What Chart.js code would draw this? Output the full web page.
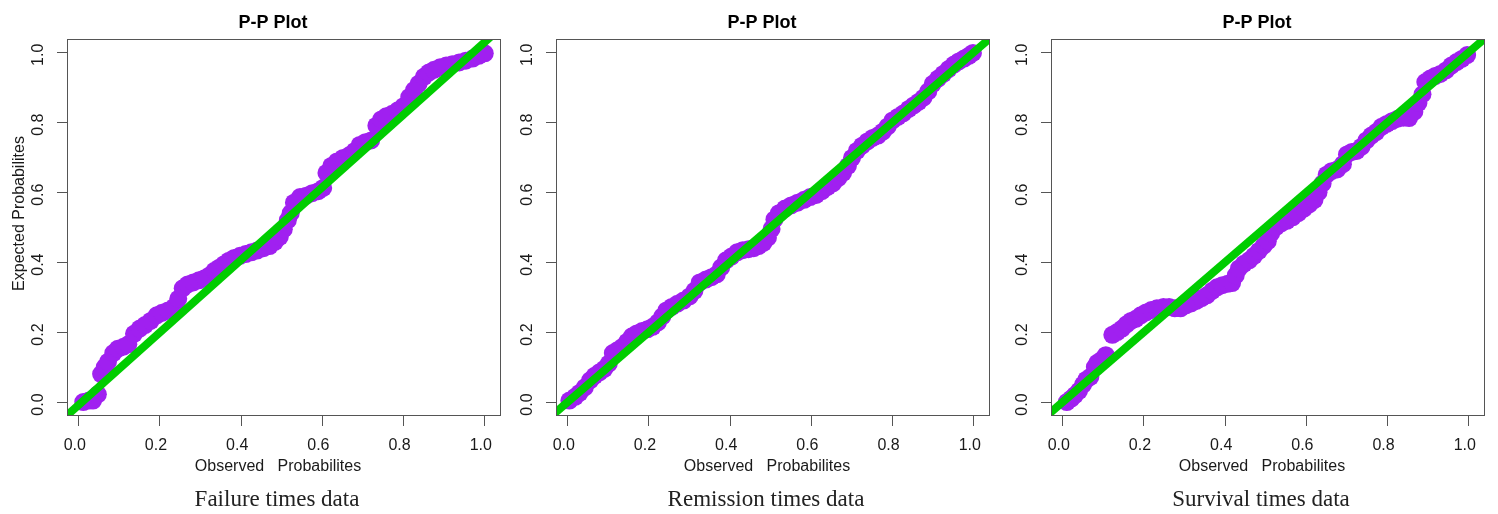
<!DOCTYPE html>
<html>
<head>
<meta charset="utf-8">
<title>P-P Plots</title>
<script src="https://cdn.jsdelivr.net/npm/chart.js@4.4.1/dist/chart.umd.min.js"></script>
<style>
  body { margin: 0; background: #fff; }
  #wrap { position: relative; width: 1498px; height: 514px; overflow: hidden; }
  #wrap canvas { position: absolute; top: 0; }
</style>
</head>
<body>
<div id="wrap">
  <canvas id="pp1" width="498" height="514" style="left:7px"></canvas>
  <canvas id="pp2" width="498" height="514" style="left:496px"></canvas>
  <canvas id="pp3" width="498" height="514" style="left:991px"></canvas>
</div>
<script>
// tick labels shared by both axes of every panel
var tickValues = [0, 0.2, 0.4, 0.6, 0.8, 1.0];
// reference lines: x ends and y ends per panel
var lineX = [-0.1, 1.1];
var failureLine = [-0.112, 1.133];
var remissionLine = [-0.1, 1.1];
var survivalLine = [-0.1, 1.1];

// Failure times data
var failureObs = [0.011, 0.025, 0.035, 0.047, 0.055, 0.064, 0.072, 0.085, 0.096, 0.110,
  0.122, 0.136, 0.150, 0.163, 0.177, 0.192, 0.205, 0.220, 0.235, 0.245,
  0.256, 0.268, 0.282, 0.296, 0.310, 0.322, 0.334, 0.346, 0.358, 0.370,
  0.383, 0.397, 0.411, 0.425, 0.439, 0.455, 0.470, 0.483, 0.495, 0.505,
  0.515, 0.522, 0.530, 0.545, 0.560, 0.575, 0.590, 0.602, 0.610, 0.622,
  0.636, 0.651, 0.667, 0.680, 0.692, 0.706, 0.720, 0.733, 0.745, 0.757,
  0.772, 0.786, 0.800, 0.814, 0.826, 0.837, 0.850, 0.862, 0.875, 0.890,
  0.905, 0.920, 0.937, 0.953, 0.970, 0.985, 1.000];
var failureExp = [0.000, 0.004, 0.004, 0.022, 0.080, 0.100, 0.115, 0.140, 0.152, 0.158,
  0.165, 0.195, 0.210, 0.220, 0.232, 0.248, 0.255, 0.262, 0.272, 0.295,
  0.325, 0.336, 0.342, 0.348, 0.354, 0.362, 0.375, 0.384, 0.394, 0.404,
  0.412, 0.418, 0.423, 0.428, 0.433, 0.440, 0.446, 0.458, 0.472, 0.494,
  0.520, 0.540, 0.570, 0.586, 0.590, 0.597, 0.603, 0.612, 0.655, 0.675,
  0.688, 0.698, 0.706, 0.718, 0.735, 0.743, 0.748, 0.790, 0.808, 0.817,
  0.824, 0.834, 0.846, 0.872, 0.892, 0.910, 0.930, 0.942, 0.950, 0.957,
  0.962, 0.966, 0.971, 0.976, 0.982, 0.990, 0.997];

// Remission times data
var remissionObs = [0.004, 0.018, 0.029, 0.042, 0.055, 0.066, 0.078, 0.090, 0.101, 0.111,
  0.122, 0.134, 0.146, 0.158, 0.170, 0.183, 0.196, 0.209, 0.222, 0.233,
  0.243, 0.256, 0.270, 0.285, 0.300, 0.312, 0.325, 0.340, 0.354, 0.367,
  0.378, 0.390, 0.403, 0.417, 0.431, 0.445, 0.458, 0.470, 0.482, 0.493,
  0.502, 0.509, 0.520, 0.535, 0.550, 0.566, 0.582, 0.597, 0.612, 0.626,
  0.640, 0.653, 0.666, 0.678, 0.690, 0.700, 0.712, 0.725, 0.738, 0.751,
  0.764, 0.776, 0.788, 0.800, 0.813, 0.826, 0.840, 0.852, 0.864, 0.876,
  0.888, 0.899, 0.912, 0.925, 0.938, 0.951, 0.963, 0.976, 0.988, 0.998];
var remissionExp = [0.004, 0.015, 0.026, 0.042, 0.062, 0.075, 0.085, 0.095, 0.110, 0.140,
  0.148, 0.157, 0.172, 0.188, 0.196, 0.203, 0.208, 0.215, 0.228, 0.245,
  0.262, 0.272, 0.281, 0.290, 0.302, 0.318, 0.342, 0.350, 0.357, 0.365,
  0.385, 0.405, 0.416, 0.428, 0.434, 0.437, 0.440, 0.446, 0.455, 0.470,
  0.495, 0.522, 0.540, 0.553, 0.562, 0.570, 0.578, 0.586, 0.592, 0.603,
  0.615, 0.625, 0.640, 0.655, 0.675, 0.698, 0.718, 0.733, 0.745, 0.755,
  0.762, 0.773, 0.788, 0.805, 0.815, 0.825, 0.838, 0.848, 0.858, 0.870,
  0.888, 0.910, 0.925, 0.938, 0.952, 0.965, 0.974, 0.982, 0.990, 0.998];

// Survival times data
var survivalObs = [0.010, 0.021, 0.030, 0.040, 0.050, 0.058, 0.068, 0.079, 0.085, 0.095,
  0.106, 0.122, 0.134, 0.146, 0.157, 0.168, 0.180, 0.192, 0.205, 0.218,
  0.232, 0.248, 0.262, 0.276, 0.290, 0.303, 0.316, 0.329, 0.342, 0.355,
  0.368, 0.380, 0.393, 0.406, 0.417, 0.426, 0.434, 0.446, 0.459, 0.471,
  0.483, 0.495, 0.505, 0.513, 0.525, 0.538, 0.552, 0.566, 0.580, 0.594,
  0.607, 0.620, 0.630, 0.640, 0.650, 0.662, 0.676, 0.690, 0.700, 0.712,
  0.724, 0.736, 0.748, 0.760, 0.772, 0.785, 0.798, 0.811, 0.825, 0.839,
  0.853, 0.866, 0.876, 0.886, 0.893, 0.905, 0.917, 0.930, 0.944, 0.957,
  0.970, 0.983, 0.996];
var survivalExp = [0.000, 0.010, 0.020, 0.032, 0.050, 0.064, 0.072, 0.100, 0.112, 0.120,
  0.134, 0.192, 0.200, 0.210, 0.222, 0.232, 0.238, 0.248, 0.256, 0.263,
  0.268, 0.272, 0.272, 0.268, 0.268, 0.276, 0.282, 0.289, 0.297, 0.305,
  0.318, 0.328, 0.334, 0.338, 0.340, 0.362, 0.382, 0.395, 0.405, 0.418,
  0.432, 0.447, 0.460, 0.482, 0.500, 0.511, 0.518, 0.528, 0.540, 0.553,
  0.565, 0.578, 0.600, 0.625, 0.650, 0.660, 0.665, 0.680, 0.708, 0.715,
  0.718, 0.730, 0.748, 0.762, 0.772, 0.787, 0.795, 0.803, 0.810, 0.813,
  0.812, 0.830, 0.855, 0.880, 0.915, 0.925, 0.932, 0.938, 0.948, 0.962,
  0.972, 0.981, 0.992];

Chart.defaults.font.family = "Arial, 'Liberation Sans', sans-serif";
Chart.defaults.font.size = 16;
Chart.defaults.color = "#1a1a1a";

// R style box around the plot region
var boxPlugin = {
  id: "rBox",
  afterDatasetsDraw: function(chart) {
    var a = chart.chartArea, ctx = chart.ctx;
    ctx.save();
    ctx.strokeStyle = "#555";
    ctx.lineWidth = 1;
    ctx.strokeRect(Math.round(a.left) + 0.5, Math.round(a.top) + 0.5,
      Math.round(a.right - a.left) - 1, Math.round(a.bottom - a.top) - 1);
    ctx.restore();
  }
};

// title, axis titles and caption
var textPlugin = {
  id: "rText",
  afterDraw: function(chart, args, opts) {
    var a = chart.chartArea, ctx = chart.ctx;
    var cx = (a.left + a.right) / 2;
    ctx.save();
    ctx.textAlign = "center";
    ctx.textBaseline = "middle";
    ctx.fillStyle = "#000";
    ctx.font = "bold 18px Arial, 'Liberation Sans', sans-serif";
    ctx.fillText(opts.title, cx - 11, a.top - 16);
    ctx.fillStyle = "#1a1a1a";
    ctx.font = "16px Arial, 'Liberation Sans', sans-serif";
    ctx.fillText(opts.xlab, cx - 6, a.bottom + 51);
    ctx.fillStyle = "#222";
    ctx.font = "23px 'Liberation Serif', 'Times New Roman', serif";
    ctx.fillText(opts.caption, cx - 7, a.bottom + 84);
    if (opts.ylab) {
      ctx.fillStyle = "#1a1a1a";
      ctx.font = "16px Arial, 'Liberation Sans', sans-serif";
      ctx.translate(a.left - 47, (a.top + a.bottom) / 2 - 14);
      ctx.rotate(-Math.PI / 2);
      ctx.fillText(opts.ylab, 0, 0);
    }
    ctx.restore();
  }
};

function setTicks(scale) {
  scale.ticks = tickValues.map(function(v) { return { value: v }; });
}

function makePlot(id, obs, exp, lineY, caption, ylab) {
  var pts = obs.map(function(v, i) { return { x: v, y: exp[i] }; });
  var line = lineX.map(function(v, i) { return { x: v, y: lineY[i] }; });
  return new Chart(document.getElementById(id), {
    type: "scatter",
    data: {
      datasets: [{
        data: pts,
        backgroundColor: "#A020F0",
        borderWidth: 0,
        pointRadius: 9,
        pointHoverRadius: 9,
        order: 2
      }, {
        type: "line",
        data: line,
        borderColor: "#00CD00",
        borderWidth: 8,
        pointRadius: 0,
        fill: false,
        clip: 0,
        order: 1
      }]
    },
    options: {
      responsive: false,
      animation: false,
      events: [],
      layout: { autoPadding: false, padding: { left: 0, right: 4, top: 39, bottom: 58 } },
      plugins: {
        legend: { display: false },
        tooltip: { enabled: false },
        rText: { title: "P-P Plot", xlab: "Observed   Probabilites", caption: caption, ylab: ylab }
      },
      scales: {
        x: {
          type: "linear",
          min: -0.029,
          max: 1.04,
          afterBuildTicks: setTicks,
          afterFit: function(s) { s.height = 40; s.paddingLeft = 0; s.paddingRight = 0; },
          border: { display: false },
          grid: { drawOnChartArea: false, drawTicks: true, tickLength: 10, color: "#555", tickColor: "#555" },
          ticks: {
            padding: 10,
            labelOffset: -4,
            maxRotation: 0,
            callback: function(v) { return Number(v).toFixed(1); }
          }
        },
        y: {
          type: "linear",
          min: -0.04,
          max: 1.038,
          afterBuildTicks: setTicks,
          afterFit: function(s) { s.width = 60; s.paddingTop = 0; s.paddingBottom = 0; },
          border: { display: false },
          grid: { drawOnChartArea: false, drawTicks: true, tickLength: 10, color: "#555", tickColor: "#555" },
          ticks: {
            padding: 7,
            minRotation: 90,
            maxRotation: 90,
            crossAlign: "center",
            labelOffset: 2.5,
            callback: function(v) { return Number(v).toFixed(1); }
          }
        }
      }
    },
    plugins: [boxPlugin, textPlugin]
  });
}

document.addEventListener("DOMContentLoaded", function() {
  makePlot("pp1", failureObs, failureExp, failureLine, "Failure times data", "Expected Probabilites");
  makePlot("pp2", remissionObs, remissionExp, remissionLine, "Remission times data", null);
  makePlot("pp3", survivalObs, survivalExp, survivalLine, "Survival times data", null);
});
</script>
</body>
</html>
